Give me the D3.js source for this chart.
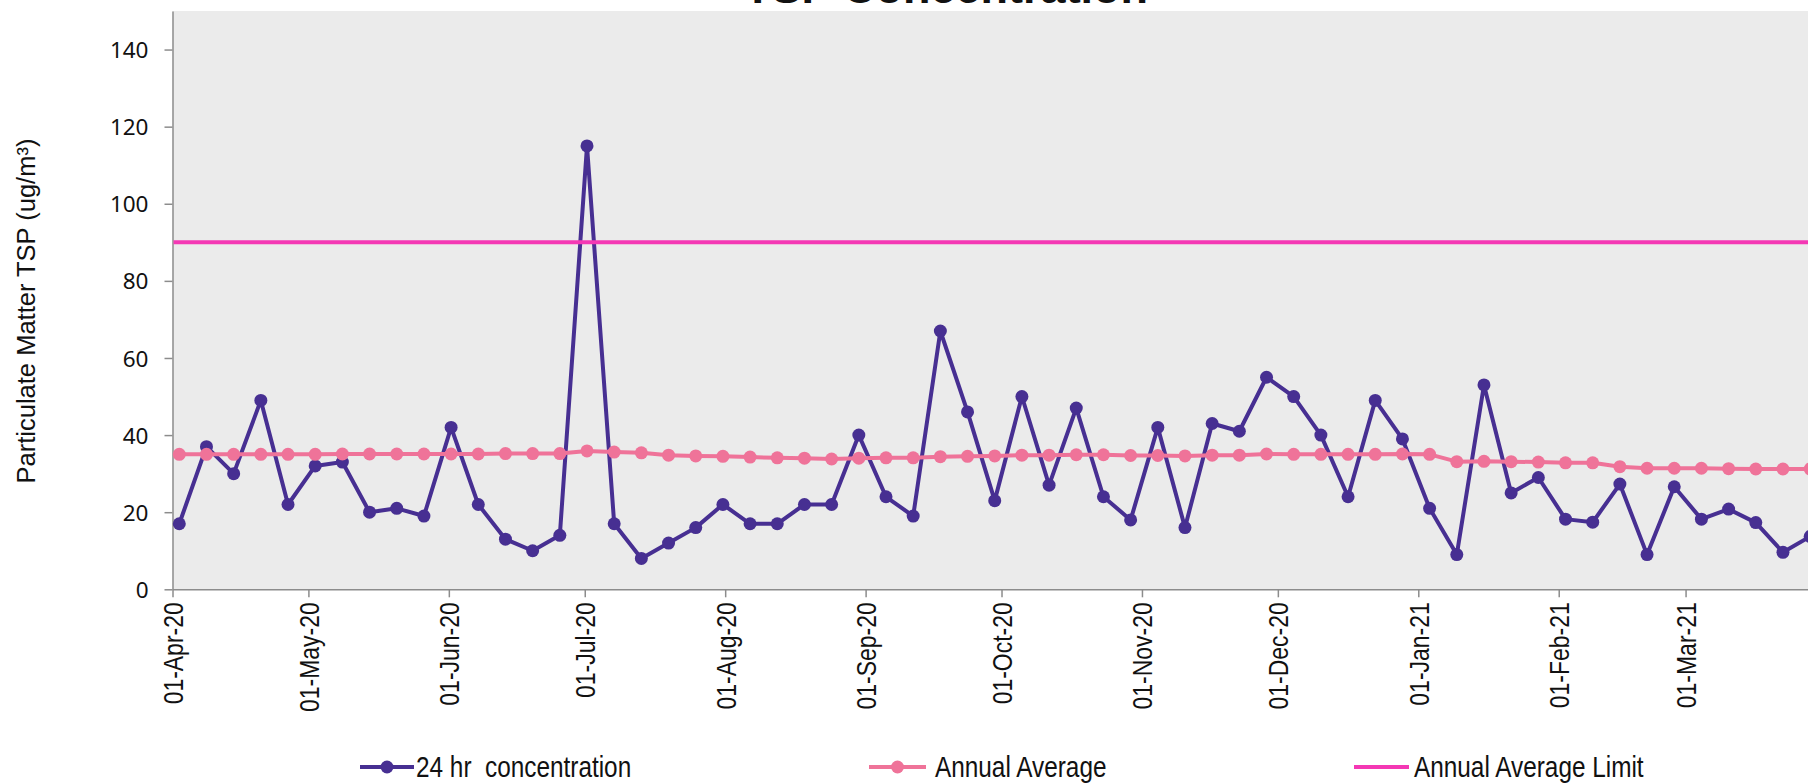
<!DOCTYPE html>
<html>
<head>
<meta charset="utf-8">
<script src="https://cdn.jsdelivr.net/npm/d3@7"></script>
<style>
  body { margin: 0; background: #fff; overflow: hidden; }
  svg { display: block; }
  .ytick text { font-family: "Noto Sans", sans-serif; font-size: 22.5px; fill: #111; }
  .xtick text { font-family: "Liberation Sans", Arial, sans-serif; font-size: 28px; fill: #111; }
  .legend text { font-family: "Liberation Sans", Arial, sans-serif; font-size: 29px; fill: #111; }
</style>
</head>
<body>
<svg id="chart"></svg>
<script>
// sample dates (24 hr samples, every 6th day)
var dates = [
  "2020-04-02","2020-04-08","2020-04-14","2020-04-20","2020-04-26",
  "2020-05-02","2020-05-08","2020-05-14","2020-05-20","2020-05-26",
  "2020-06-01","2020-06-07","2020-06-13","2020-06-19","2020-06-25",
  "2020-07-01","2020-07-07","2020-07-13","2020-07-19","2020-07-25","2020-07-31",
  "2020-08-06","2020-08-12","2020-08-18","2020-08-24","2020-08-30",
  "2020-09-05","2020-09-11","2020-09-17","2020-09-23","2020-09-29",
  "2020-10-05","2020-10-11","2020-10-17","2020-10-23","2020-10-29",
  "2020-11-04","2020-11-10","2020-11-16","2020-11-22","2020-11-28",
  "2020-12-04","2020-12-10","2020-12-16","2020-12-22","2020-12-28",
  "2021-01-03","2021-01-09","2021-01-15","2021-01-21","2021-01-27",
  "2021-02-02","2021-02-08","2021-02-14","2021-02-20","2021-02-26",
  "2021-03-04","2021-03-10","2021-03-16","2021-03-22","2021-03-28"
];

var conc24 = [
  17, 37, 30, 49, 22, 32, 33, 20, 21, 19,
  42, 22, 13, 10, 14, 115, 17, 8, 12, 16,
  22, 17, 17, 22, 22, 40, 24, 19, 67, 46,
  23, 50, 27, 47, 24, 18, 42, 16, 43, 41,
  55, 50, 40, 24, 49, 39, 21, 9, 53, 25,
  29, 18.2, 17.4, 27.3, 9, 26.6, 18.2, 20.8, 17.3, 9.6,
  13.7
];

var annualAvg = [
  35.0, 35.0, 35.0, 35.0, 35.0, 35.0, 35.1, 35.1, 35.1, 35.1,
  35.1, 35.1, 35.2, 35.2, 35.2, 35.9, 35.6, 35.4, 34.8, 34.6,
  34.5, 34.3, 34.1, 34.0, 33.8, 34.0, 34.1, 34.1, 34.4, 34.5,
  34.6, 34.8, 34.8, 34.9, 34.9, 34.7, 34.7, 34.6, 34.8, 34.8,
  35.1, 35.0, 35.0, 35.0, 35.0, 35.1, 35.0, 33.1, 33.2, 33.1,
  33.0, 32.8, 32.8, 31.8, 31.4, 31.4, 31.4, 31.3, 31.2, 31.2,
  31.2
];

var annualLimit = 90;

var yTicks = [0, 20, 40, 60, 80, 100, 120, 140];
var xTicks = ["2020-04-01","2020-05-01","2020-06-01","2020-07-01","2020-08-01","2020-09-01",
              "2020-10-01","2020-11-01","2020-12-01","2021-01-01","2021-02-01","2021-03-01"];

var legendNames = ["24 hr  concentration", "Annual Average", "Annual Average Limit"];
var colors = ["#472f92", "#ef7399", "#f438b4"];

var width = 1808, height = 783;
var plotL = 172.5, plotT = 11, plotB = 589.3, plotR = 1826;
var narrow = 0.82; // no narrow font installed, squeeze horizontally

var svg = d3.select("#chart").attr("width", width).attr("height", height);

var parse = d3.utcParse("%Y-%m-%d");
var fmt = d3.utcFormat("%d-%b-%y");

var x = d3.scaleUtc()
  .domain([parse("2020-04-01"), parse("2021-04-01")])
  .range([plotL, plotR]);
var y = d3.scaleLinear().domain([0, 150]).range([plotB, plotT]);

// samples sit in the middle of their day
function xMid(s) { return x(d3.utcHour.offset(parse(s), 12)); }

svg.append("rect")
  .attr("x", plotL).attr("y", plotT)
  .attr("width", plotR - plotL).attr("height", plotB - plotT)
  .attr("fill", "#ebebeb");

// title, mostly cut off at the top
svg.append("text")
  .attr("x", 946).attr("y", 2.5)
  .attr("text-anchor", "middle")
  .style("font-family", "'Liberation Sans', Arial, sans-serif")
  .style("font-weight", "bold")
  .style("font-size", "45px")
  .attr("fill", "#111")
  .text("TSP  Concentration");

// y axis
var yAxis = svg.append("g").attr("class", "ytick")
  .attr("transform", "translate(" + plotL + ",0)")
  .call(d3.axisLeft(y).tickValues(yTicks).tickSize(8).tickSizeOuter(0).tickPadding(16));
yAxis.select(".domain").attr("stroke", "#8c8c8c").attr("stroke-width", 1.5);
yAxis.selectAll(".tick line").attr("stroke", "#8c8c8c").attr("stroke-width", 1.5);
yAxis.selectAll("text").attr("dy", "0.36em");

// x axis
var xAxis = svg.append("g").attr("class", "xtick")
  .attr("transform", "translate(0," + plotB + ")")
  .call(d3.axisBottom(x).tickValues(xTicks.map(parse)).tickSize(8).tickSizeOuter(0).tickFormat(fmt));
xAxis.select(".domain").attr("stroke", "#8c8c8c").attr("stroke-width", 1.5);
xAxis.selectAll(".tick line").attr("stroke", "#8c8c8c").attr("stroke-width", 1.5);
xAxis.selectAll(".tick text")
  .attr("text-anchor", "end")
  .attr("x", 0).attr("y", 0).attr("dy", null)
  .attr("transform", "translate(10,13) rotate(-90) scale(" + narrow + ",1)");

// y axis title
svg.append("text")
  .attr("transform", "translate(35,311) rotate(-90)")
  .attr("text-anchor", "middle")
  .style("font-family", "'Liberation Sans', Arial, sans-serif")
  .style("font-size", "25.5px")
  .attr("fill", "#111")
  .text("Particulate Matter TSP (ug/m\u00b3)");

var line = d3.line()
  .x(function (d, i) { return xMid(dates[i]); })
  .y(function (d) { return y(d); });

// 24 hr concentration
svg.append("path").datum(conc24)
  .attr("d", line).attr("fill", "none")
  .attr("stroke", colors[0]).attr("stroke-width", 4).attr("stroke-linejoin", "round");
svg.append("g").selectAll("circle").data(conc24).enter().append("circle")
  .attr("cx", function (d, i) { return xMid(dates[i]); })
  .attr("cy", function (d) { return y(d); })
  .attr("r", 6.5).attr("fill", colors[0]);

// annual average
svg.append("path").datum(annualAvg)
  .attr("d", line).attr("fill", "none")
  .attr("stroke", colors[1]).attr("stroke-width", 4).attr("stroke-linejoin", "round");
svg.append("g").selectAll("circle").data(annualAvg).enter().append("circle")
  .attr("cx", function (d, i) { return xMid(dates[i]); })
  .attr("cy", function (d) { return y(d); })
  .attr("r", 6.5).attr("fill", colors[1]);

// annual average limit
svg.append("line")
  .attr("x1", plotL + 1).attr("x2", plotR)
  .attr("y1", y(annualLimit)).attr("y2", y(annualLimit))
  .attr("stroke", colors[2]).attr("stroke-width", 4);

// legend
var legendX = [360, 869, 1354];
var legendLen = [54, 57, 55];
var legendTextX = [56, 66, 60];
var lg = svg.append("g").attr("class", "legend");
legendNames.forEach(function (name, i) {
  var g = lg.append("g").attr("transform", "translate(" + legendX[i] + ",767)");
  g.append("line").attr("x1", 0).attr("x2", legendLen[i]).attr("y1", 0).attr("y2", 0)
    .attr("stroke", colors[i]).attr("stroke-width", 4);
  if (i < 2) {
    g.append("circle").attr("cx", legendLen[i] / 2).attr("cy", 0).attr("r", 6.5).attr("fill", colors[i]);
  }
  g.append("text")
    .attr("transform", "translate(" + legendTextX[i] + ",10) scale(0.84,1)")
    .style("white-space", "pre")
    .text(name);
});
</script>
</body>
</html>
